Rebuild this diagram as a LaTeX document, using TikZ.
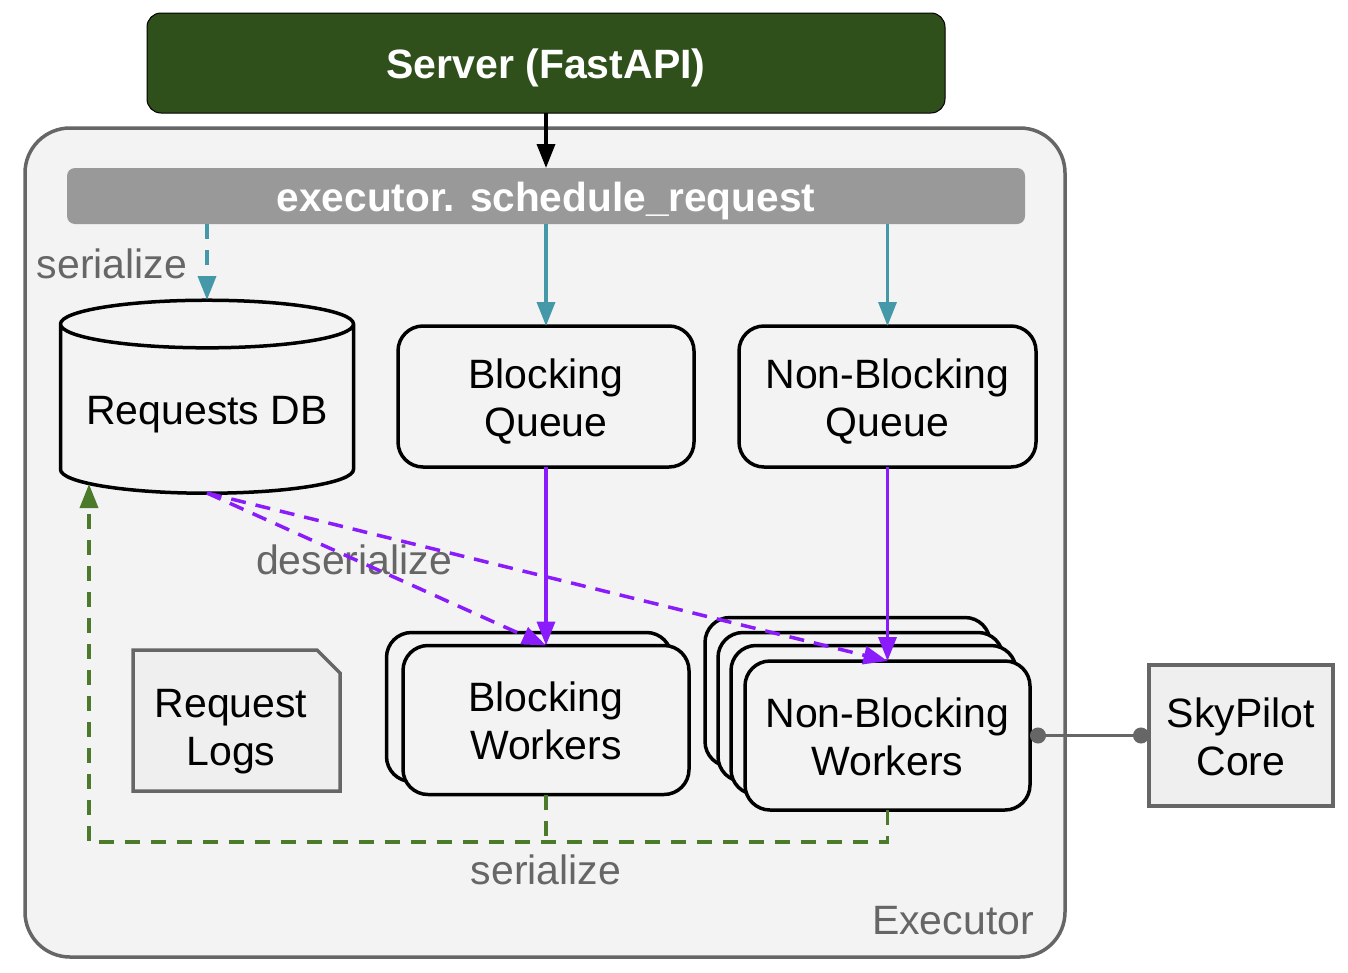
\documentclass[tikz,border=0pt]{standalone}
\usepackage{fontspec}
\setmainfont{Liberation Sans}
\usetikzlibrary{arrows.meta,shapes.geometric,shapes.misc}
\definecolor{panelfill}{HTML}{F3F3F3}
\definecolor{panelline}{HTML}{666666}
\definecolor{serverfill}{HTML}{2F4F1B}
\definecolor{notefill}{HTML}{EFEFEF}
\definecolor{tealline}{HTML}{4498A8}
\definecolor{purpleline}{HTML}{8A1CFB}
\definecolor{greenline}{HTML}{4A7A2A}
\newcommand{\up}[1]{\rule{0pt}{#1pt}}
\tikzset{
  boxtext/.style={font=\fontsize{41}{48}\selectfont, align=center, inner sep=0pt, outer sep=0pt},
  roundbox/.style={boxtext, shape=rectangle, draw=black, line width=3.5pt, fill=panelfill, rounded corners=25pt},
  tagtext/.style={boxtext, text=panelline},
  tealarrow/.style={draw=tealline, line width=3.5pt, -{Triangle[length=24pt,width=18pt]}},
  purplearrow/.style={draw=purpleline, line width=3.5pt, -{Triangle[length=24pt,width=18pt]}},
  greenarrow/.style={draw=greenline, line width=3.5pt, dash pattern=on 15pt off 11pt}
}
\begin{document}
\begin{tikzpicture}
  [x=1pt, y=-1pt]
  \useasboundingbox (0,0) rectangle (1348,972);
  \node[boxtext, draw=panelline, line width=3.5pt, fill=panelfill, rounded corners=45pt,
    minimum width=1040pt, minimum height=829pt] (executor) at (545,542.5) {};
  \node[boxtext, draw=black, line width=1pt, fill=serverfill, rounded corners=14pt, text=white,
    minimum width=798pt, minimum height=100pt, font=\fontsize{41}{48}\selectfont\bfseries] (server) at (546,63) {\up{39}Server (FastAPI)};
  \node[boxtext, fill=black!40, rounded corners=8pt, text=white,
    minimum width=958pt, minimum height=56pt, font=\fontsize{40.6}{48}\selectfont\bfseries] (sched) at (546,196) {\up{39}executor. schedule\_request};
  \node[boxtext, shape=cylinder, shape border rotate=90, draw=black, line width=3.5pt, fill=panelfill,
    cylinder uses custom fill, cylinder body fill=panelfill, cylinder end fill=white!97!black,
    aspect=0.197, minimum width=293pt, minimum height=193pt] (db) at (207,409.5) {\up{39}Requests DB};
  \node[roundbox, minimum width=296pt, minimum height=141pt] (blockq) at (546,396.5) {\up{39}Blocking\\Queue};
  \node[roundbox, minimum width=297pt, minimum height=141pt] (nonblockq) at (887.5,396.5) {\up{39}Non-Blocking\\Queue};
  \node[boxtext, shape=chamfered rectangle, chamfered rectangle corners=north east,
    chamfered rectangle xsep=11.5pt, chamfered rectangle ysep=11.5pt, draw=panelline, line width=3.5pt, fill=notefill,
    minimum width=207pt, minimum height=141pt] (logs) at (236.5,720.5) {\up{51}Request\kern11pt\\Logs\kern11pt};
  \node[roundbox, minimum width=285pt, minimum height=149pt] (blockback) at (529,707) {};
  \node[roundbox, minimum width=286pt, minimum height=149pt] (blockw) at (546,720) {\up{32}Blocking\\Workers};
  \node[roundbox, minimum width=285pt, minimum height=149pt] (nonblockbacka) at (847.5,692) {};
  \node[roundbox, minimum width=285pt, minimum height=149pt] (nonblockbackb) at (860.5,707) {};
  \node[roundbox, minimum width=285pt, minimum height=149pt] (nonblockbackc) at (873.5,720) {};
  \node[roundbox, minimum width=285pt, minimum height=149pt] (nonblockw) at (887.5,735.5) {\up{32}Non-Blocking\\Workers};
  \node[boxtext, draw=panelline, line width=3.5pt, fill=notefill,
    minimum width=184pt, minimum height=141pt] (core) at (1241,735.5) {\up{32}SkyPilot\\Core};
  \node[tagtext] (serializea) at (112,264) {serialize};
  \node[tagtext] (deserialize) at (354,560) {deserialize};
  \node[tagtext] (serializeb) at (546,870) {serialize};
  \node[tagtext] (execlabel) at (953,921) {Executor};
  \coordinate (dbin) at (89,484);
  \coordinate (dbout) at (207,493);
  \coordinate (dbtop) at (207,300);
  \coordinate (greencorner) at (89,842);
  \draw[line width=3.5pt, -{Triangle[length=24pt,width=18pt]}] (server.south) -- (sched.north);
  \draw[tealarrow, dash pattern=on 15pt off 11pt] (sched.south -| dbtop) -- (dbtop);
  \draw[tealarrow] (sched.south -| blockq.north) -- (blockq.north);
  \draw[tealarrow] (sched.south -| nonblockq.north) -- (nonblockq.north);
  \draw[purplearrow] (blockq.south) -- (blockw.north);
  \draw[purplearrow] (nonblockq.south) -- (nonblockw.north);
  \draw[purplearrow, dash pattern=on 15pt off 10pt] (dbout) -- (blockw.north);
  \draw[purplearrow, dash pattern=on 15pt off 10pt] (dbout) -- (nonblockw.north);
  \draw[greenarrow, -{Triangle[length=24pt,width=18pt]}] (nonblockw.south) -- (nonblockw.south |- greencorner) -- (greencorner) -- (dbin);
  \draw[greenarrow] (blockw.south) -- (blockw.south |- greencorner);
  \draw[draw=panelline, line width=3.5pt, {Circle[length=16pt]}-{Circle[length=16pt]}] (nonblockw.east |- core.west) -- (core.west);
\end{tikzpicture}
\end{document}
